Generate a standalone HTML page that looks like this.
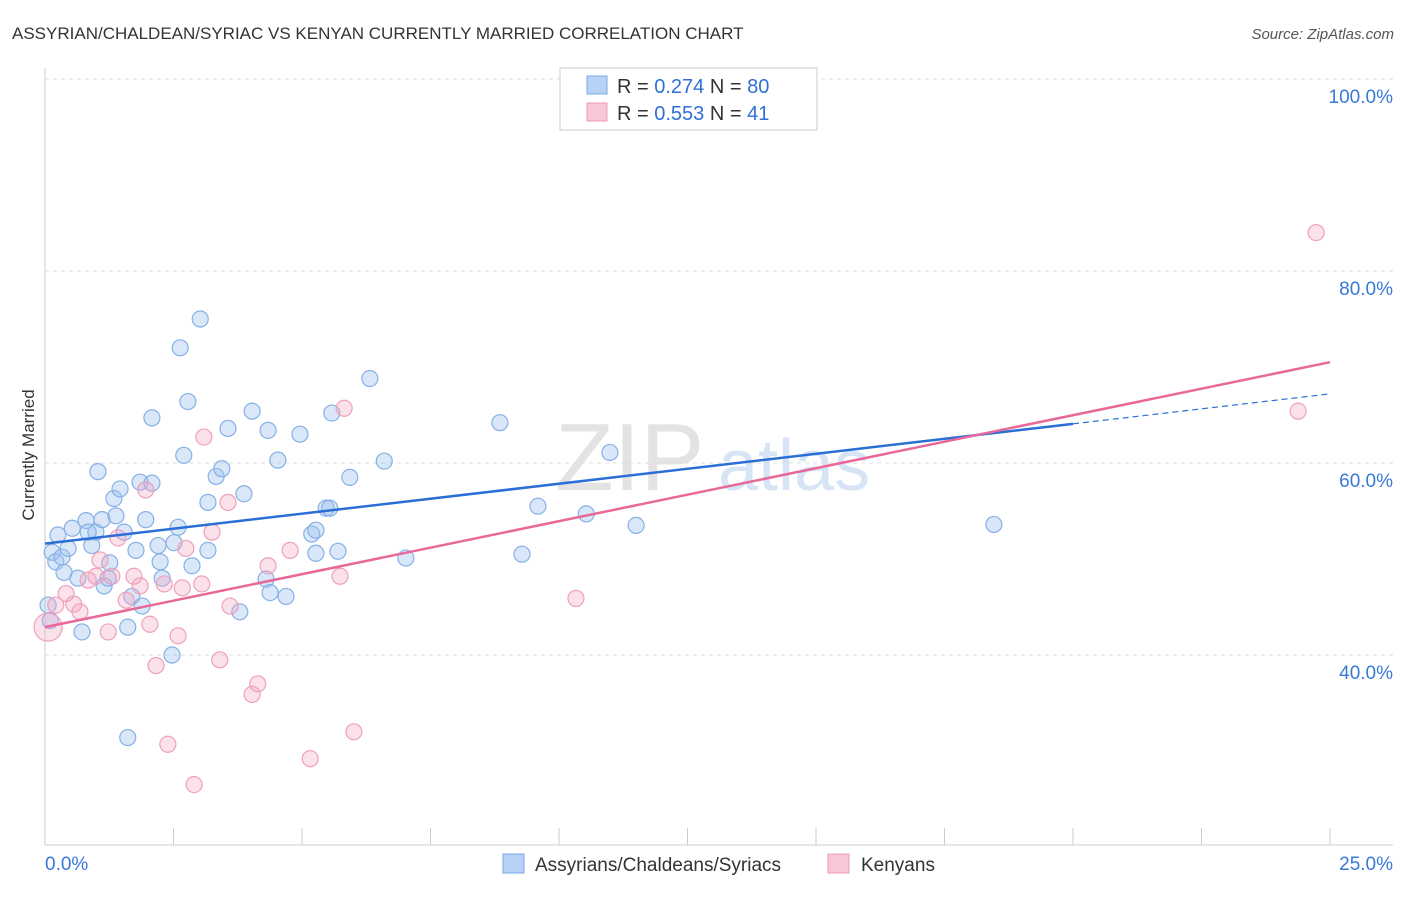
<!DOCTYPE html>
<html><head><meta charset="utf-8"><style>
body{margin:0;background:#fff;font-family:"Liberation Sans",sans-serif}
svg text{font-family:"Liberation Sans",sans-serif}
</style></head><body>
<svg id="chart" width="1406" height="892">
<text x="12" y="39" font-size="17" fill="#333">ASSYRIAN/CHALDEAN/SYRIAC VS KENYAN CURRENTLY MARRIED CORRELATION CHART</text>
<text x="1394" y="39" font-size="15" fill="#555" font-style="italic" text-anchor="end">Source: ZipAtlas.com</text>
<text x="34" y="455" font-size="17" fill="#333" transform="rotate(-90 34 455)" text-anchor="middle">Currently Married</text>
<g><text x="555" y="490" font-size="96" fill="#e3e3e3" font-family="Liberation Serif">ZIP</text><text x="718" y="490" font-size="72" fill="#d6e4f5">atlas</text></g>
<g id="grid"></g><g id="axes"></g><g id="pts"></g><g id="lines"></g>
<g>
<rect x="560" y="68" width="257" height="62" fill="#fff" stroke="#ccc"/>
<rect x="587" y="76" width="20" height="18" fill="#b7d2f5" stroke="#7aa8e6"/>
<rect x="587" y="103" width="20" height="18" fill="#f8c6d6" stroke="#ee9cb8"/>
<text x="617" y="93" font-size="20" fill="#333">R = <tspan fill="#2f6fd6">0.274</tspan>   N = <tspan fill="#2f6fd6">80</tspan></text>
<text x="617" y="120" font-size="20" fill="#333">R = <tspan fill="#2f6fd6">0.553</tspan>   N =  <tspan fill="#2f6fd6">41</tspan></text>
</g>
<g>
<rect x="503" y="854" width="21" height="19" fill="#b7d2f5" stroke="#7aa8e6"/>
<text x="535" y="871" font-size="19" fill="#333">Assyrians/Chaldeans/Syriacs</text>
<rect x="828" y="854" width="21" height="19" fill="#f8c6d6" stroke="#ee9cb8"/>
<text x="861" y="871" font-size="19" fill="#333">Kenyans</text>
</g>
</svg>
<script>
const xTicks=[0,2.5,5,7.5,10,12.5,15,17.5,20,22.5,25];
const yTicks=[40,60,80,100];
const blueX=[0.14,0.25,0.21,0.33,0.45,0.37,0.53,0.64,0.72,0.80,0.91,0.99,1.03,1.11,1.15,1.23,1.26,1.34,1.38,1.46,1.54,1.61,1.61,1.69,1.77,1.85,1.89,1.96,2.08,2.08,2.20,2.24,2.28,2.47,2.51,2.59,2.63,2.70,2.78,2.86,3.02,3.17,3.17,3.33,3.44,3.56,3.87,4.03,4.30,4.34,4.38,4.53,4.69,4.96,5.19,5.27,5.27,5.47,5.54,5.58,5.70,5.93,6.32,6.60,7.02,8.85,9.28,9.59,10.53,10.99,11.50,18.46,0.06,0.10,0.84,3.79];
const blueY=[50.7,52.5,49.7,50.2,51.1,48.6,53.2,48.0,42.4,54.0,51.4,52.8,59.1,54.1,47.2,48.0,49.6,56.3,54.5,57.3,52.8,42.9,31.4,46.1,50.9,58.0,45.1,54.1,57.9,64.7,51.4,49.7,48.0,40.0,51.7,53.3,72.0,60.8,66.4,49.3,75.0,50.9,55.9,58.6,59.4,63.6,56.8,65.4,47.9,63.4,46.5,60.3,46.1,63.0,52.6,50.6,53.0,55.3,55.3,65.2,50.8,58.5,68.8,60.2,50.1,64.2,50.5,55.5,54.7,61.1,53.5,53.6,45.2,43.6,52.8,44.5];
const pinkX=[0.06,0.21,0.41,0.56,0.68,0.84,0.99,1.07,1.23,1.30,1.42,1.58,1.73,1.85,1.96,2.04,2.16,2.32,2.39,2.59,2.67,2.74,2.90,3.05,3.09,3.25,3.40,3.56,3.60,4.03,4.14,4.34,4.77,5.16,5.74,5.82,6.01,10.33,24.38,24.73];
const pinkY=[42.9,45.2,46.4,45.3,44.5,47.8,48.2,49.9,42.4,48.2,52.2,45.7,48.2,47.2,57.2,43.2,38.9,47.4,30.7,42.0,47.0,51.1,26.5,47.4,62.7,52.8,39.5,55.9,45.1,35.9,37.0,49.3,50.9,29.2,48.2,65.7,32.0,45.9,65.4,84.0];
const blueTrend=[51.6,67.2];
const pinkTrend=[42.9,70.5];
const X=v=>45+v*51.4, Y=v=>79+(100-v)*9.6;
const NS="http://www.w3.org/2000/svg";
function mk(t,a,p){const e=document.createElementNS(NS,t);for(const k in a)e.setAttribute(k,a[k]);p.appendChild(e);return e;}
const grid=document.getElementById('grid'),axes=document.getElementById('axes'),pts=document.getElementById('pts'),lines=document.getElementById('lines');
yTicks.forEach(v=>{
 const l=mk('line',{x1:45,x2:1393,y1:Y(v),y2:Y(v),stroke:'#ddd','stroke-dasharray':'4,4'},grid);
 
 
 const t=mk('text',{x:1393,y:Y(v)+24,'font-size':19,fill:'#3a78d8','text-anchor':'end'},axes);
 t.textContent=v.toFixed(1)+'%';
 
 
});
mk('line',{x1:45,x2:45,y1:68,y2:845,stroke:'#ccc'},axes);
mk('line',{x1:45,x2:1393,y1:845,y2:845,stroke:'#ccc'},axes);
xTicks.forEach(v=>{
 const l=mk('line',{x1:X(v),x2:X(v),y1:828,y2:845,stroke:'#ccc'},axes);
 
 
});
[[0,'0.0%','start'],[25,'25.0%','end']].forEach(([v,s,a])=>{
 const t=mk('text',{x:a==='end'?1393:X(v),y:870,'font-size':19,fill:'#3a78d8','text-anchor':a},axes);
 t.textContent=s;
 
 
});
blueX.forEach((x,i)=>{
 const c=mk('circle',{cx:X(x),cy:Y(blueY[i]),r:8,fill:'rgba(160,196,240,0.4)',stroke:'#86b0e6','stroke-width':1.2},pts);
 
 
});
pinkX.forEach((x,i)=>{
 const c=mk('circle',{cx:X(x),cy:Y(pinkY[i]),r:i===0?14:8,fill:'rgba(244,170,195,0.35)',stroke:'#efa0bc','stroke-width':1.2},pts);
 
 
});
const bAt=v=>blueTrend[0]+(blueTrend[1]-blueTrend[0])*v/25;
let l1=mk('line',{x1:X(0),y1:Y(bAt(0)),x2:X(20),y2:Y(bAt(20)),stroke:'#2a6fd6','stroke-width':2.5},lines);


let l2=mk('line',{x1:X(20),y1:Y(bAt(20)),x2:X(25),y2:Y(bAt(25)),stroke:'#2a6fd6','stroke-width':1.2,'stroke-dasharray':'6,4'},lines);


let l3=mk('line',{x1:X(0),y1:Y(pinkTrend[0]),x2:X(25),y2:Y(pinkTrend[1]),stroke:'#e8689a','stroke-width':2.5},lines);


</script>
</body></html>
